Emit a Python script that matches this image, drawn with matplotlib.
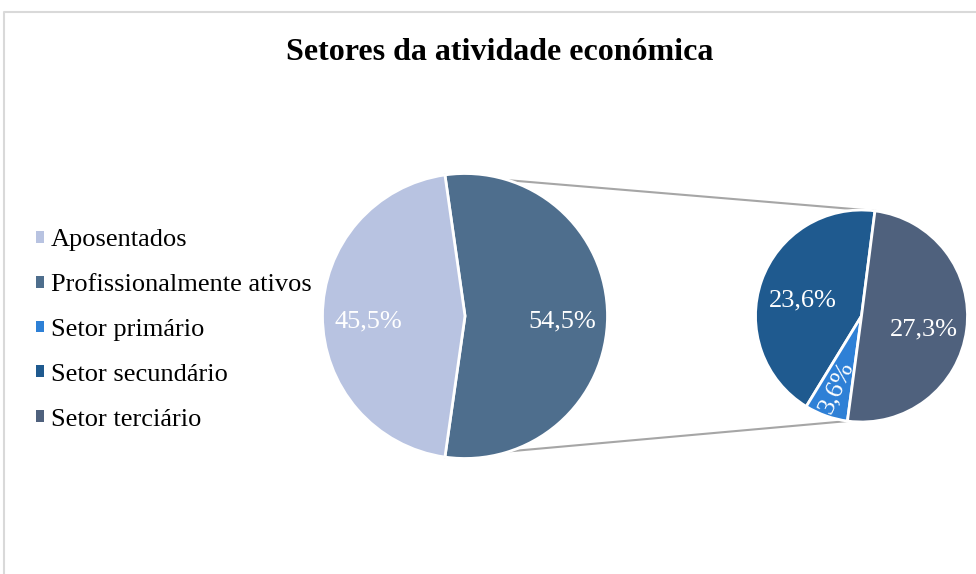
import numpy as np
import matplotlib
matplotlib.use("Agg")
import matplotlib.pyplot as plt

# ---- data ----
title = "Setores da atividade económica"
main_labels = ["Profissionalmente ativos", "Aposentados"]
main_values = [54.5, 45.5]
sub_labels = ["Setor secundário", "Setor primário", "Setor terciário"]
sub_values = [23.6, 3.6, 27.3]
legend_order = ["Aposentados", "Profissionalmente ativos", "Setor primário",
                "Setor secundário", "Setor terciário"]

colors = {
    "Aposentados": "#B8C3E1",
    "Profissionalmente ativos": "#4E6E8D",
    "Setor primário": "#2E80D6",
    "Setor secundário": "#1F5A8F",
    "Setor terciário": "#4F617D",
}

plt.rcParams['font.family'] = ['Liberation Serif', 'DejaVu Serif']

W, H = 976, 574
fig = plt.figure(figsize=(W / 100, H / 100), dpi=100)
ax = fig.add_axes([0, 0, 1, 1])

# layout (pixels, y up)
c1 = (465.0, H - 316.0); r1 = 142.5
c2 = (861.5, H - 316.0); r2 = 106.0

def fmt(v):
    return f"{v:.1f}".replace('.', ',') + "%"

tot_main = sum(main_values)
split = main_values[0]
start1 = -180.0 * split / tot_main
w1, t1 = ax.pie(main_values, colors=[colors[l] for l in main_labels],
                startangle=start1, counterclock=True, center=c1, radius=r1,
                wedgeprops=dict(edgecolor='white', linewidth=2), frame=True)

start2 = 82.7
w2, t2 = ax.pie(sub_values, colors=[colors[l] for l in sub_labels],
                startangle=start2, counterclock=True, center=c2, radius=r2,
                wedgeprops=dict(edgecolor='white', linewidth=2), frame=True)

for w in list(w1) + list(w2):
    w.set_zorder(3)

# value labels
def place(c, r, wedge, val, dist, rot=0, dy=-5):
    mid = np.deg2rad((wedge.theta1 + wedge.theta2) / 2)
    x = c[0] + dist * r * np.cos(mid)
    y = c[1] + dist * r * np.sin(mid) + dy
    ax.text(x, y, fmt(val), color='white', fontsize=19, ha='center',
            va='center', rotation=rot, rotation_mode='anchor', zorder=5)

for w, v in zip(w1, main_values):
    place(c1, r1, w, v, 0.68)
for w, v, l in zip(w2, sub_values, sub_labels):
    if l == "Setor primário":
        mid = (w.theta1 + w.theta2) / 2
        place(c2, r2, w, v, 0.71, rot=mid - 185, dy=0)
    else:
        place(c2, r2, w, v, 0.59)

# connector lines
a_top = np.deg2rad(w1[0].theta2); a_bot = np.deg2rad(w1[0].theta1)
b_top = np.deg2rad(w2[0].theta1); b_bot = np.deg2rad(w2[-1].theta1)
for a, b in [(a_top, b_top), (a_bot, b_bot)]:
    ax.plot([c1[0] + r1 * np.cos(a), c2[0] + r2 * np.cos(b)],
            [c1[1] + r1 * np.sin(a), c2[1] + r2 * np.sin(b)],
            color='#A6A6A6', lw=1.5, zorder=1)

ax.set_xlim(0, W); ax.set_ylim(0, H)
ax.set_aspect('equal')
ax.axis('off')

# chart border
ax.plot([4, 4, W + 5], [-5, H - 12, H - 12], color='#D9D9D9', lw=1.5, zorder=0)

# title
fig.text(499.5 / W, 1 - 53 / H, title, ha='center', va='center',
         fontsize=23, fontweight='bold')

# legend
handles = [plt.Rectangle((0, 0), 1, 1, facecolor=colors[l], edgecolor='none')
           for l in legend_order]
leg = fig.legend(handles, legend_order, loc='center left',
                 bbox_to_anchor=(36 / W, 1 - 330 / H), frameon=False,
                 fontsize=19, handlelength=0.32, handleheight=0.32,
                 handletextpad=0.25, labelspacing=0.87, borderpad=0, borderaxespad=0)

fig.savefig("out.png", dpi=100)
